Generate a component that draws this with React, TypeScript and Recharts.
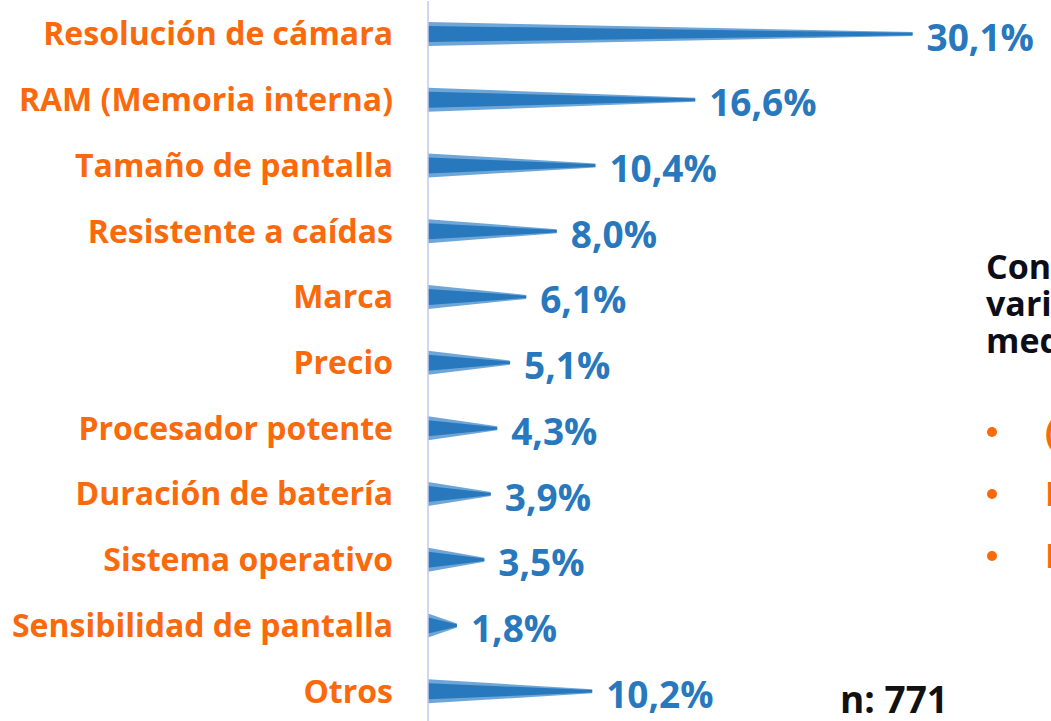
// spike bar chart: atributos más valorados

import { Bar, BarChart, LabelList, XAxis, YAxis } from "recharts";

const categories = [
  "Resolución de cámara",
  "RAM (Memoria interna)",
  "Tamaño de pantalla",
  "Resistente a caídas",
  "Marca",
  "Precio",
  "Procesador potente",
  "Duración de batería",
  "Sistema operativo",
  "Sensibilidad de pantalla",
  "Otros",
];
const values = [30.1, 16.6, 10.4, 8.0, 6.1, 5.1, 4.3, 3.9, 3.5, 1.8, 10.2];
const sideTitle = ["Considerando", "variables de", "medición:"];
const sideBullets = ["(Cámara)", "RAM", "Pantalla"];
const sampleLabel = "n: 771";

const data = categories.map((name, i) => ({ name, value: values[i] }));

const ORANGE = "#fa690c";
const BLUE = "#2878bd";
const FONT = "'Open Sans', sans-serif";

function Spike(props: any) {
  const { x, y, width, height } = props;
  const cy = y + height / 2;
  const tip = x + width;
  const outer = `${x},${cy - 12} ${tip},${cy - 2} ${tip},${cy + 2} ${x},${cy + 12}`;
  const inner = `${x},${cy - 8} ${tip},${cy - 1.2} ${tip},${cy + 1.2} ${x},${cy + 8}`;
  return (
    <g>
      <polygon points={outer} fill="#6fa6d8" />
      <polygon points={inner} fill={BLUE} />
    </g>
  );
}

function CatTick(props: any) {
  const { y, payload } = props;
  return (
    <text
      x={393}
      y={y - 1}
      textAnchor="end"
      dominantBaseline="central"
      fill={ORANGE}
      fontFamily={FONT}
      fontWeight={700}
      fontSize={32}
    >
      {payload.value}
    </text>
  );
}

function ValueLabel(props: any) {
  const { x, y, width, height, value } = props;
  return (
    <text
      x={x + width + 14}
      y={y + height / 2 + 2}
      dominantBaseline="central"
      fill={BLUE}
      fontFamily={FONT}
      fontWeight={700}
      fontSize={37}
    >
      {value.toFixed(1).replace(".", ",") + "%"}
    </text>
  );
}

export default function App() {
  return (
    <div style={{ position: "absolute", left: 0, top: 0, width: 1051, height: 721, overflow: "hidden", background: "#fff" }}>
      <BarChart
        width={1051}
        height={730}
        layout="vertical"
        data={data}
        margin={{ top: 1, right: 0, bottom: 6, left: 0 }}
        barCategoryGap={0}
      >
        <XAxis type="number" domain={[0, 38.7]} hide />
        <YAxis
          type="category"
          dataKey="name"
          width={428}
          axisLine={{ stroke: "#c6c6f2", strokeWidth: 1.5 }}
          tickLine={false}
          tick={<CatTick />}
          interval={0}
        />
        <Bar dataKey="value" shape={<Spike />} isAnimationActive={false}>
          <LabelList dataKey="value" content={<ValueLabel />} />
        </Bar>
      </BarChart>
      <svg width={1051} height={721} style={{ position: "absolute", left: 0, top: 0, pointerEvents: "none" }}>
        {sideTitle.map((t, i) => (
          <text key={t} x={986} y={279 + i * 37} fontFamily={FONT} fontWeight={700} fontSize={34} fill="#0d0d1a">
            {t}
          </text>
        ))}
        {sideBullets.map((t, i) => (
          <g key={t}>
            <circle cx={992} cy={432 + i * 62} r={5} fill={ORANGE} />
            <text x={1045} y={444 + i * 62} fontFamily={FONT} fontWeight={700} fontSize={34} fill={ORANGE}>
              {t}
            </text>
          </g>
        ))}
        <text x={840} y={713} fontFamily={FONT} fontWeight={700} fontSize={37} fill="#111">
          {sampleLabel}
        </text>
      </svg>
    </div>
  );
}
